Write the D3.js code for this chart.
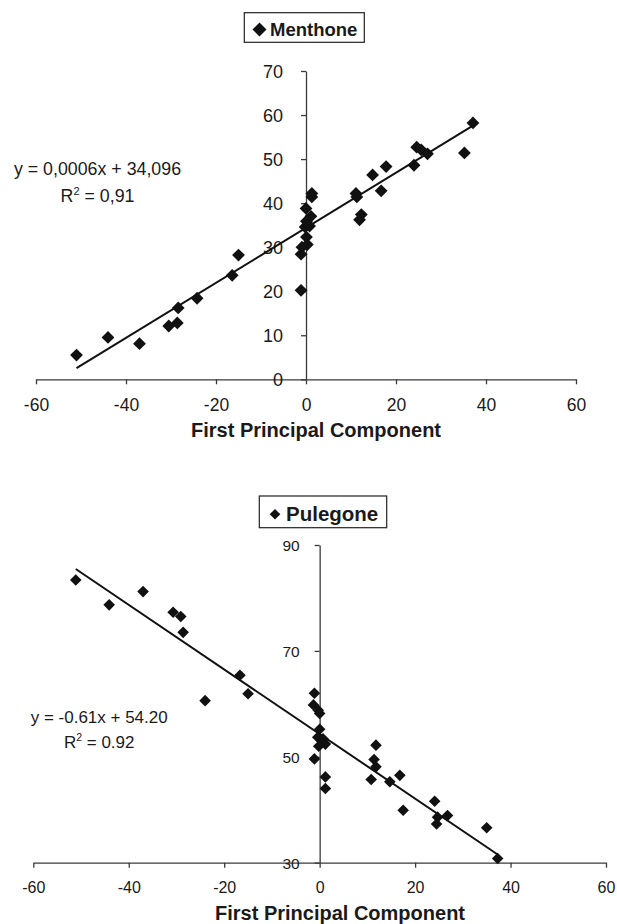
<!DOCTYPE html>
<html><head><meta charset="utf-8">
<script src="https://cdn.jsdelivr.net/npm/d3@7/dist/d3.min.js"></script>
<style>
body{margin:0;background:#fff}
svg{display:block}
text{font-family:"Liberation Sans",Arial,sans-serif;fill:#1a1a1a}
</style>
</head><body>
<svg id="chart" width="617" height="924"></svg>
<script>
// ---------- data ----------
const xTicks = [-60, -40, -20, 0, 20, 40, 60];
const xTitle = "First Principal Component";

const menthoneName = "Menthone";
const menthoneYTicks = [0, 10, 20, 30, 40, 50, 60, 70];
const menthoneX = [-51, -44, -37, -30.5, -28.6, -28.4, -24.2, -16.4, -15, -1.1, -1.1, -0.9, 0.3, 0.1, -0.2, 0.8, 0.1, 1.1, 0.0, 1.3, 1.3, 11.3, 11.1, 12.3, 11.9, 16.7, 14.8, 17.8, 24.0, 24.6, 25.6, 27.0, 35.2, 37.1];
const menthoneY = [5.5, 9.5, 8.1, 12.1, 12.8, 16.2, 18.4, 23.6, 28.2, 20.2, 28.4, 30.0, 30.6, 32.3, 34.6, 34.8, 35.9, 37.0, 38.8, 41.4, 42.2, 41.4, 42.2, 37.4, 36.2, 42.8, 46.4, 48.3, 48.6, 52.7, 52.1, 51.2, 51.4, 58.2];
const menthoneFit = [0.625, 34.4];          // slope, intercept of drawn trend line
const menthoneEq = ["y = 0,0006x + 34,096", "0,91"];

const pulegoneName = "Pulegone";
const pulegoneYTicks = [30, 50, 70, 90];
const pulegoneX = [-51.1, -44.1, -37.0, -30.7, -29.1, -28.6, -24.0, -16.7, -15.0, -1.1, -1.3, -0.3, 0.0, 0.0, -0.4, 0.7, 1.2, -0.2, 0.5, -1.1, 1.2, 1.2, 11.8, 11.4, 11.8, 10.8, 14.7, 16.8, 17.5, 24.1, 24.7, 24.5, 26.8, 35.0, 37.3];
const pulegoneY = [83.4, 78.7, 81.2, 77.3, 76.5, 73.5, 60.6, 65.4, 61.9, 62.0, 59.8, 58.8, 58.2, 55.2, 53.7, 53.4, 52.4, 52.0, 53.0, 49.6, 46.2, 44.0, 52.2, 49.5, 48.1, 45.7, 45.3, 46.5, 39.9, 41.6, 38.6, 37.3, 38.9, 36.6, 30.8];
const pulegoneFit = [-0.61, 54.3];
const pulegoneEq = ["y = -0.61x + 54.20", "0.92"];

// ---------- drawing ----------
const svg = d3.select("#chart");
svg.append("rect").attr("width", 617).attr("height", 924).attr("fill", "#fff");

function diamond(h) { return `M0,${-h}L${h},0L0,${h}L${-h},0Z`; }

function panel(o) {
  const x = d3.scaleLinear().domain([-60, 60]).range(o.xr);
  const y = d3.scaleLinear().domain(o.yd).range(o.yr);
  const g = svg.append("g");

  // x axis
  const xa = g.append("g").attr("transform", `translate(0,${y(o.yd[0])})`)
    .call(d3.axisBottom(x).tickValues(xTicks).tickSizeInner(5).tickSizeOuter(0).tickFormat(d3.format("d")));
  xa.select(".domain").attr("stroke", "#3a3a3a").attr("stroke-width", 1.3);
  xa.selectAll(".tick line").attr("stroke", "#3a3a3a").attr("stroke-width", 1.3);
  xa.selectAll(".tick text").attr("y", o.xLabOff).attr("dy", 0)
    .attr("font-size", o.xLabSize).attr("fill", "#1a1a1a")
    .style("font-family", '"Liberation Sans",Arial,sans-serif')
    .text(d => d < 0 ? "-" + Math.abs(d) : d);

  // y axis
  const ya = g.append("g").attr("transform", `translate(${x(0)},0)`)
    .call(d3.axisLeft(y).tickValues(o.yTicks).tickSizeInner(5).tickSizeOuter(0).tickFormat(d3.format("d")));
  ya.select(".domain").attr("stroke", "#3a3a3a").attr("stroke-width", 1.3);
  ya.selectAll(".tick line").attr("stroke", "#3a3a3a").attr("stroke-width", 1.3);
  ya.selectAll(".tick text").attr("x", o.yLabOff).attr("dy", "0.36em")
    .attr("font-size", o.yLabSize).attr("fill", "#1a1a1a")
    .style("font-family", '"Liberation Sans",Arial,sans-serif');

  // trend line
  const xs = [d3.min(o.xs), d3.max(o.xs)];
  g.append("line")
    .attr("x1", x(xs[0])).attr("y1", y(o.fit[0] * xs[0] + o.fit[1]))
    .attr("x2", x(xs[1])).attr("y2", y(o.fit[0] * xs[1] + o.fit[1]))
    .attr("stroke", "#111").attr("stroke-width", 2);

  // points
  g.selectAll("path.pt").data(o.xs.map((v, i) => [v, o.ys[i]])).join("path")
    .attr("class", "pt")
    .attr("d", diamond(o.ms))
    .attr("transform", d => `translate(${x(d[0])},${y(d[1])})`)
    .attr("fill", "#111");

  // legend
  const L = o.leg;
  g.append("rect").attr("x", L.x).attr("y", L.y).attr("width", L.w).attr("height", L.h)
    .attr("fill", "#fff").attr("stroke", "#222").attr("stroke-width", 1.2);
  g.append("path").attr("d", diamond(L.ms)).attr("transform", `translate(${L.dx},${L.dy})`).attr("fill", "#111");
  g.append("text").attr("x", L.tx).attr("y", L.ty).attr("font-size", L.fs).attr("font-weight", "bold").text(o.name);

  // axis title
  g.append("text").attr("x", o.titleX).attr("y", o.titleY).attr("text-anchor", "middle")
    .attr("font-size", 20).attr("font-weight", "bold").text(xTitle);

  // equation
  g.append("text").attr("x", o.eqX).attr("y", o.eqY1).attr("text-anchor", "middle")
    .attr("font-size", o.eqSize).text(o.eq[0]);
  const r = g.append("text").attr("x", o.eqX).attr("y", o.eqY2).attr("text-anchor", "middle")
    .attr("font-size", o.eqSize);
  r.append("tspan").text("R");
  r.append("tspan").attr("font-size", o.eqSize * 0.62).attr("dy", -7).text("2");
  r.append("tspan").attr("dy", 7).text(" = " + o.eq[1]);
}

panel({
  name: menthoneName, xs: menthoneX, ys: menthoneY, fit: menthoneFit, eq: menthoneEq,
  yTicks: menthoneYTicks, yd: [0, 70], xr: [36, 576], yr: [379.3, 71],
  xLabOff: 31.7, xLabSize: 17.5, yLabOff: -23, yLabSize: 18, ms: 6.4,
  leg: {x: 244.3, y: 12.7, w: 120, h: 29.6, dx: 259.5, dy: 29.5, ms: 7, tx: 270, ty: 35.7, fs: 18.5},
  titleX: 316, titleY: 437,
  eqX: 97.5, eqY1: 175, eqY2: 201.7, eqSize: 17.8
});

panel({
  name: pulegoneName, xs: pulegoneX, ys: pulegoneY, fit: pulegoneFit, eq: pulegoneEq,
  yTicks: pulegoneYTicks, yd: [30, 90], xr: [33.3, 606], yr: [862.7, 545],
  xLabOff: 30, xLabSize: 16, yLabOff: -20, yLabSize: 15.5, ms: 5.8,
  leg: {x: 259.3, y: 496, w: 127.4, h: 31.7, dx: 275, dy: 514.3, ms: 5.3, tx: 286, ty: 521, fs: 20.5},
  titleX: 340, titleY: 920,
  eqX: 99.2, eqY1: 723.3, eqY2: 748.3, eqSize: 17
});
</script>
</body></html>
